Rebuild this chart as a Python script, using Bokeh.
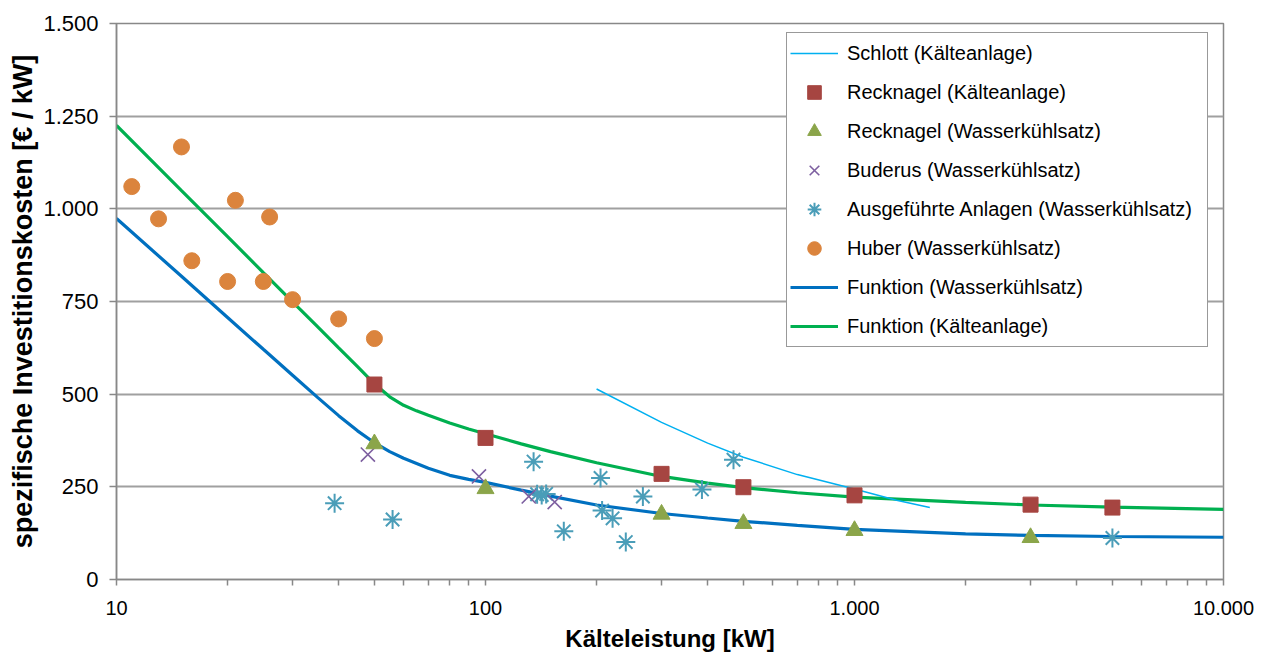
from bokeh.plotting import figure
from bokeh.models import Range1d, FixedTicker, CustomJSTickFormatter, Legend, LegendItem
from bokeh.embed import file_html
from bokeh.resources import INLINE

FONT = "Liberation Sans"

# ---- data ----
schlott_x = [200, 300, 400, 500, 700, 1000, 1300, 1600]
schlott_y = [514, 424, 368, 330, 283, 244, 214, 194]

reck_k_x = [50, 100, 300, 500, 1000, 3000, 5000]
reck_k_y = [526, 382, 285, 249, 227, 202, 194]

reck_w_x = [50, 100, 300, 500, 1000, 3000]
reck_w_y = [366, 245, 176, 151, 132, 113]

buderus_x = [48, 96, 131, 154]
buderus_y = [337, 278, 224, 209]

ausg_x = [39, 56, 135, 138, 142, 146, 163, 205, 207, 221, 240, 267, 386, 470, 5000]
ausg_y = [206, 162, 318, 230, 228, 231, 130, 274, 186, 165, 101, 224, 243, 323, 112]

huber_x = [11, 13, 15, 16, 20, 21, 25, 26, 30, 40, 50]
huber_y = [1060, 973, 1167, 860, 804, 1023, 804, 978, 755, 703, 650]

fw_x = [10, 15, 20, 25, 30, 35, 40, 45, 50, 55, 60, 70, 80, 90, 100, 125, 150, 200, 300,
        400, 500, 700, 1000, 2000, 3000, 5000, 10000]
fw_y = [974, 818, 707, 621, 551, 492, 442, 401, 369, 345, 327, 300, 281, 270, 262, 241, 225,
        201, 178, 166, 157, 146, 135, 123, 119, 116, 114]

fk_x = [10, 15, 20, 25, 30, 35, 40, 45, 50, 55, 60, 65, 70, 80, 90, 100, 125, 150, 200, 300,
        400, 500, 700, 1000, 2000, 3000, 5000, 10000]
fk_y = [1225, 1049, 925, 828, 749, 683, 625, 574, 528, 493, 470, 455, 443, 422, 406, 393, 366,
        345, 315, 278, 260, 248, 234, 222, 208, 201, 195, 189]

x_ticks = [10, 100, 1000, 10000]
x_minor = [20, 30, 40, 50, 60, 70, 80, 90, 200, 300, 400, 500, 600, 700, 800, 900,
           2000, 3000, 4000, 5000, 6000, 7000, 8000, 9000]
y_ticks = [0, 250, 500, 750, 1000, 1250, 1500]

labels = ["Schlott (Kälteanlage)", "Recknagel (Kälteanlage)", "Recknagel (Wasserkühlsatz)",
          "Buderus (Wasserkühlsatz)", "Ausgeführte Anlagen (Wasserkühlsatz)", "Huber (Wasserkühlsatz)",
          "Funktion (Wasserkühlsatz)", "Funktion (Kälteanlage)"]

p = figure(width=1260, height=655, x_axis_type="log",
           x_range=Range1d(10, 10000), y_range=Range1d(0, 1500),
           output_backend="svg", toolbar_location=None,
           min_border_left=116, min_border_right=37, min_border_top=23, min_border_bottom=76)

fmt = CustomJSTickFormatter(code="""
var s = Math.round(tick).toString();
return s.replace(/\\B(?=(\\d{3})+(?!\\d))/g, '.');
""")

p.xaxis.ticker = FixedTicker(ticks=x_ticks, minor_ticks=x_minor)
p.yaxis.ticker = FixedTicker(ticks=y_ticks)
p.xaxis.formatter = fmt
p.yaxis.formatter = fmt
axis_col = "#888888"
for ax in (p.xaxis[0], p.yaxis[0]):
    ax.axis_line_color = axis_col
    ax.axis_line_width = 1.5
    ax.major_tick_line_color = axis_col
    ax.minor_tick_line_color = axis_col
    ax.major_tick_line_width = 1.5
    ax.minor_tick_line_width = 1.5
    ax.major_tick_in = 0
    ax.minor_tick_in = 0
    ax.major_label_text_font = FONT
    ax.major_label_text_color = "#000000"
    ax.axis_label_text_font = FONT
    ax.axis_label_text_font_style = "bold"
    ax.axis_label_text_color = "#000000"

p.xaxis.major_tick_out = 6
p.xaxis.minor_tick_out = 6
p.yaxis.major_tick_out = 7
p.yaxis.minor_tick_out = 0
p.xaxis.major_label_text_font_size = "20px"
p.yaxis.major_label_text_font_size = "22px"
p.xaxis.major_label_standoff = 15
p.yaxis.major_label_standoff = 11
p.xaxis.axis_label = "Kälteleistung [kW]"
p.yaxis.axis_label = "spezifische Investitionskosten [€ / kW]"
p.xaxis.axis_label_text_font_size = "24px"
p.yaxis.axis_label_text_font_size = "27px"
p.xaxis.axis_label_standoff = 7
p.yaxis.axis_label_standoff = 2

p.xgrid.grid_line_color = None
p.ygrid.grid_line_color = "#a0a0a0"
p.ygrid.grid_line_width = 2
p.outline_line_color = axis_col
p.outline_line_width = 1.5
p.background_fill_color = "white"
p.border_fill_color = "white"

# lines first
r_fw = p.line(fw_x, fw_y, line_color="#0070C0", line_width=3.2)
r_fk = p.line(fk_x, fk_y, line_color="#00B050", line_width=3.2)
r_sch = p.line(schlott_x, schlott_y, line_color="#00B0F0", line_width=1.5)

# markers
r_hub = p.scatter(huber_x, huber_y, marker="circle", size=16, fill_color="#DB843D", line_color="#DB843D")
r_aus = p.scatter(ausg_x, ausg_y, marker="asterisk", size=19, line_color="#4A9DB8", line_width=2)
r_bud = p.scatter(buderus_x, buderus_y, marker="x", size=20, line_color="#7D5FA0", line_width=1.6)
r_rw = p.scatter(reck_w_x, reck_w_y, marker="triangle", size=17, fill_color="#8BA54A", line_color="#8BA54A")
r_rk = p.scatter(reck_k_x, reck_k_y, marker="square", size=15, fill_color="#A64541", line_color="#A64541")

renderers = [r_sch, r_rk, r_rw, r_bud, r_aus, r_hub, r_fw, r_fk]
items = [LegendItem(label=l, renderers=[r]) for l, r in zip(labels, renderers)]
legend = Legend(items=items, location=(670, 232))
legend.label_text_font = FONT
legend.label_text_font_size = "20px"
legend.label_text_color = "#000000"
legend.padding = 3
legend.spacing = 5
legend.glyph_height = 34
legend.glyph_width = 48
legend.label_standoff = 9
legend.label_height = 20
legend.label_width = 357
legend.margin = 0
legend.border_line_color = "#333333"
legend.border_line_width = 1.2
legend.background_fill_color = "white"
legend.background_fill_alpha = 1.0
p.add_layout(legend)

open("out.html", "w").write(file_html(p, INLINE))
